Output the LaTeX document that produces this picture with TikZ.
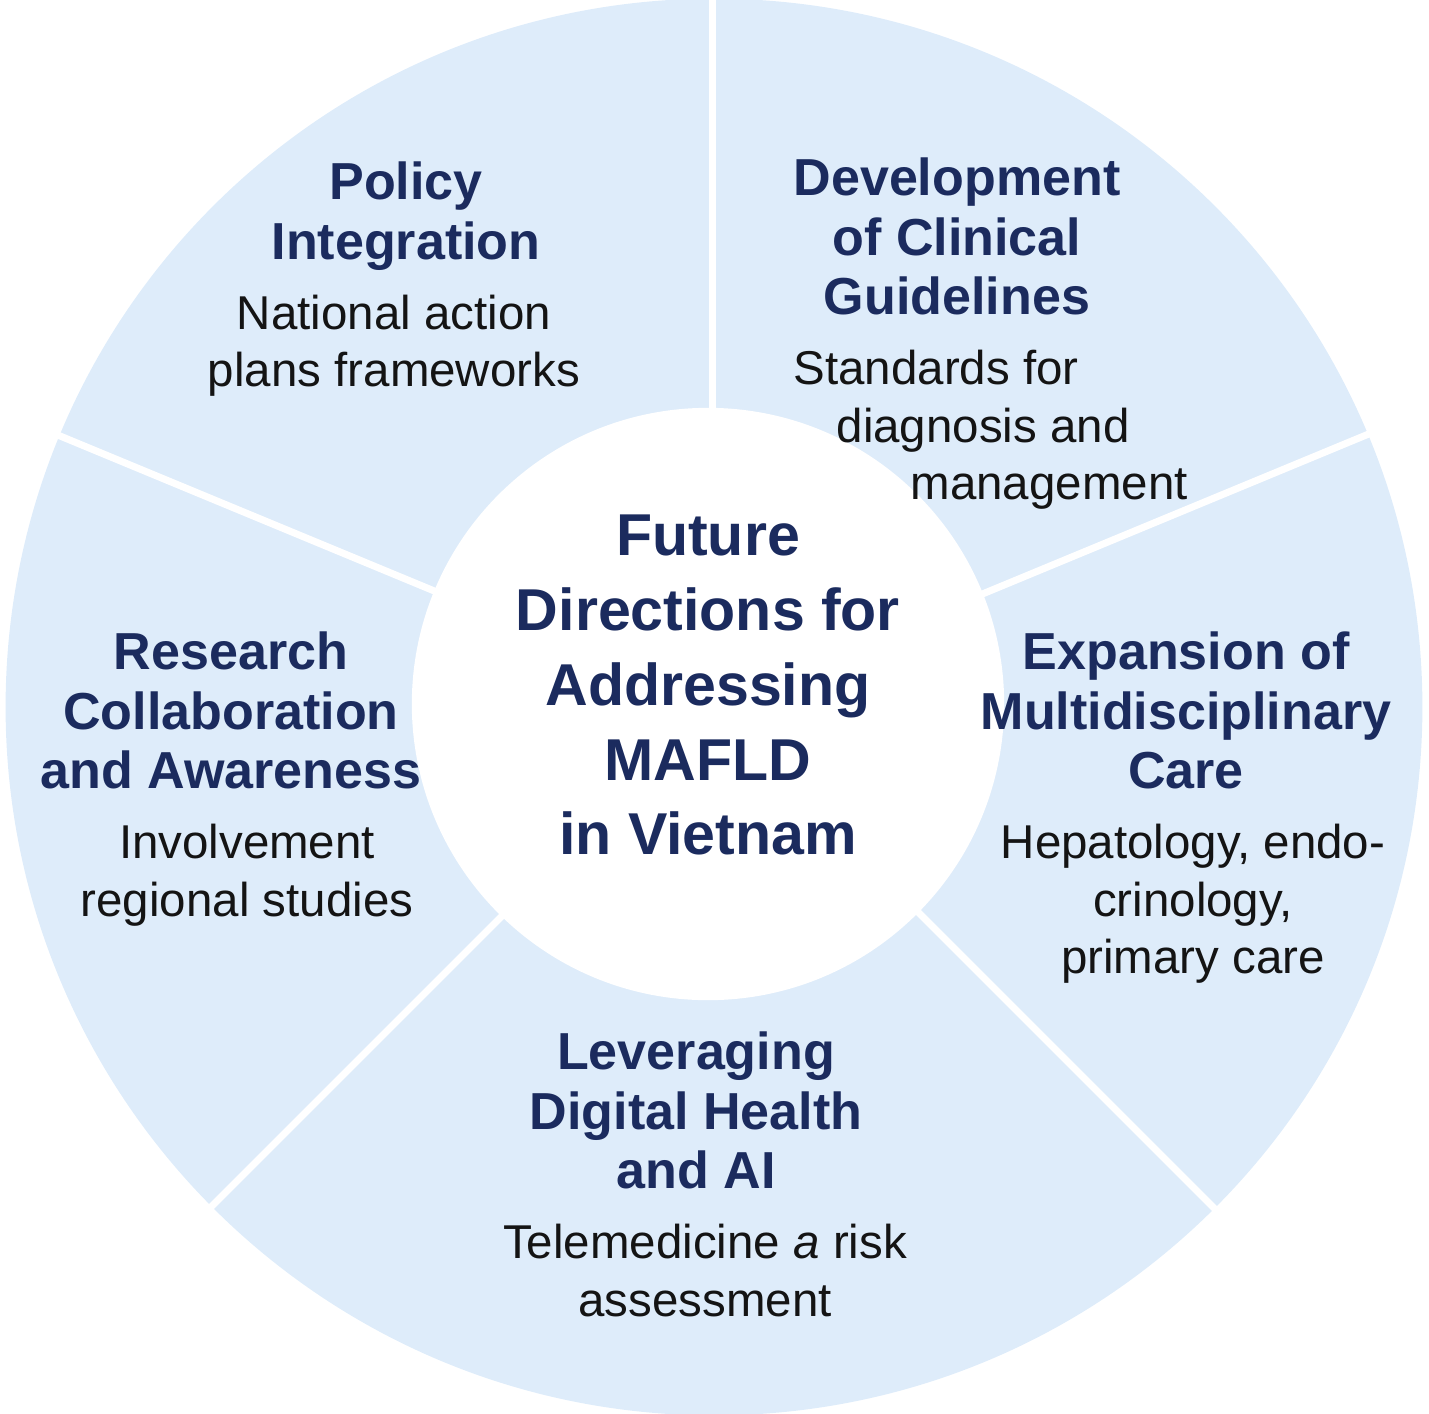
\documentclass[tikz,border=0pt]{standalone}
\usepackage{fontspec}
\setmainfont{Liberation Sans}
\usetikzlibrary{positioning}
\definecolor{hellblau}{HTML}{DEECFA}
\definecolor{dunkelblau}{HTML}{1B2B5E}
\definecolor{schrift}{HTML}{141414}
\tikzset{
  kopf/.style={font=\bfseries\fontsize{14.8}{17}\selectfont,text=dunkelblau,align=center,inner sep=0pt,text depth=0pt},
  inhalt/.style={font=\fontsize{13.5}{16.35}\selectfont,text=schrift,align=center,inner sep=0pt},
  trenn/.style={white,line width=0.07cm}
}
\begin{document}
\begin{tikzpicture}[x=0.01cm,y=-0.01cm]
\useasboundingbox (0,0) rectangle (1429,1414);
% Ring mit Trennlinien
\fill[hellblau] (714,707) circle[radius=7.08cm];
\coordinate (m) at (712,706);
\foreach \w in {90,22.5,-45,-135,157.5}{\draw[trenn] (m) -- ++(\w:7.25cm);}
% Mitte
\node[circle,fill=white,minimum size=5.92cm,inner sep=0pt] (kreis) at (708,704) {};
\node[kopf,anchor=north,font=\bfseries\fontsize{16.8}{21.3}\selectfont] (titel) at (708,514) {Future\\Directions for\\Addressing\\MAFLD\\in Vietnam};
% oben links
\node[kopf,anchor=north] (policy) at (406,161) {Policy\\Integration};
\node[inhalt,below=0.34cm of policy,xshift=-0.12cm] (policytxt) {National action\\plans frameworks};
% oben rechts
\node[kopf,anchor=north] (guide) at (957,157) {Development\\of Clinical\\Guidelines};
\node[inhalt,align=left,below right=0.34cm and 0cm of guide.south west] (guidetxt) {Standards for\\\hspace*{0.43cm}diagnosis and\\\hspace*{1.17cm}management};
% rechts
\node[kopf,anchor=north] (care) at (1186,631) {Expansion of\\Multidisciplinary\\Care};
\node[inhalt,below=0.34cm of care,xshift=0.07cm] (caretxt) {Hepatology, endo-\\crinology,\\primary care};
% unten
\node[kopf,anchor=north] (digital) at (696,1031) {Leveraging\\Digital Health\\and AI};
\node[inhalt,below=0.34cm of digital,xshift=0.09cm] (digitaltxt) {Telemedicine \textit{a} risk\\assessment};
% links
\node[kopf,anchor=north] (research) at (231,631) {Research\\Collaboration\\and Awareness};
\node[inhalt,below=0.34cm of research,xshift=0.16cm] (researchtxt) {Involvement\\regional studies};
\end{tikzpicture}
\end{document}
